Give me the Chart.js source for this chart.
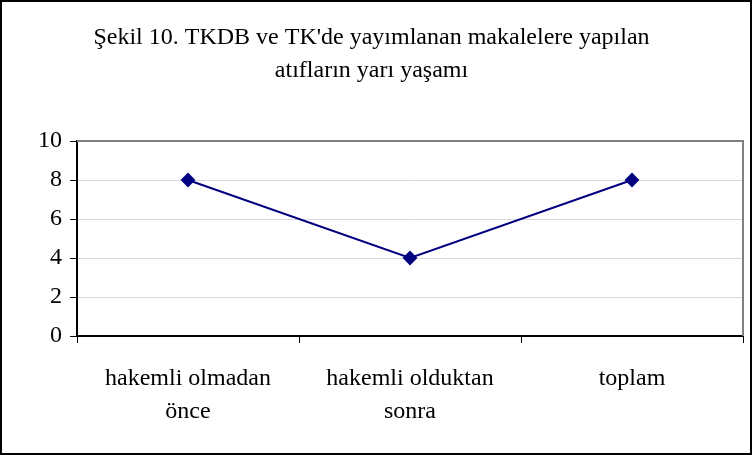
<!DOCTYPE html>
<html>
<head>
<meta charset="utf-8">
<script src="https://cdn.jsdelivr.net/npm/chart.js@4.4.0/dist/chart.umd.min.js"></script>
<style>
  html, body { margin: 0; padding: 0; background: #fff; }
  #wrap { width: 752px; height: 455px; position: relative; }
</style>
</head>
<body>
<div id="wrap"><canvas id="chart" width="752" height="455"></canvas></div>
<script>
// Chart data
const titleLines = ['Şekil 10. TKDB ve TK\'de yayımlanan makalelere yapılan', 'atıfların yarı yaşamı'];
const categories = [['hakemli olmadan', 'önce'], ['hakemli olduktan', 'sonra'], ['toplam']];
const halfLife = [8, 4, 8];
const yMin = 0;
const yMax = 10;
const yStep = 2;

const serif = "'Liberation Serif', 'Times New Roman', serif";

// Draws the outer frame and the grey plot-area box
const framePlugin = {
    id: 'frame',
    beforeDraw(chart) {
        const ctx = chart.ctx;
        ctx.save();
        ctx.fillStyle = '#fff';
        ctx.fillRect(0, 0, chart.width, chart.height);
        ctx.strokeStyle = '#000';
        ctx.lineWidth = 2;
        ctx.strokeRect(1, 1, chart.width - 2, chart.height - 2);
        ctx.restore();
    },
    beforeDatasetsDraw(chart) {
        const a = chart.chartArea;
        const ctx = chart.ctx;
        ctx.save();
        ctx.strokeStyle = '#808080';
        ctx.lineWidth = 2;
        ctx.beginPath();
        ctx.moveTo(a.left, a.top);
        ctx.lineTo(a.right, a.top);
        ctx.lineTo(a.right, a.bottom);
        ctx.stroke();
        ctx.restore();
    }
};

new Chart(document.getElementById('chart'), {
    type: 'line',
    data: {
        labels: categories,
        datasets: [{
            data: halfLife,
            borderColor: '#000080',
            backgroundColor: '#000080',
            borderWidth: 2,
            pointStyle: 'rectRot',
            pointRadius: 6,
            pointHoverRadius: 6,
            tension: 0
        }]
    },
    options: {
        responsive: false,
        animation: false,
        layout: { padding: { left: 0, right: 9, top: 0, bottom: 0 } },
        plugins: {
            legend: { display: false },
            tooltip: { enabled: false },
            title: {
                display: true,
                text: titleLines,
                color: '#000',
                font: { family: serif, size: 24, weight: 'normal', lineHeight: 1.375 },
                padding: { top: 21, bottom: 54 }
            }
        },
        scales: {
            x: {
                offset: true,
                grid: {
                    offset: true,
                    drawOnChartArea: false,
                    tickLength: 7,
                    tickColor: '#000',
                    tickWidth: 1
                },
                border: { color: '#000', width: 2 },
                ticks: {
                    color: '#000',
                    font: { family: serif, size: 24, lineHeight: 1.375 },
                    padding: 19,
                    maxRotation: 0,
                    autoSkip: false
                },
                afterFit(scale) { scale.height = 119; }
            },
            y: {
                min: yMin,
                max: yMax,
                grid: {
                    color: '#d9d9d9',
                    lineWidth: 1,
                    tickLength: 7,
                    tickColor: '#000',
                    tickWidth: 1
                },
                border: { color: '#000', width: 2 },
                ticks: {
                    stepSize: yStep,
                    color: '#000',
                    font: { family: serif, size: 24 },
                    padding: 8
                },
                afterFit(scale) { scale.width = 77; }
            }
        }
    },
    plugins: [framePlugin]
});
</script>
</body>
</html>
